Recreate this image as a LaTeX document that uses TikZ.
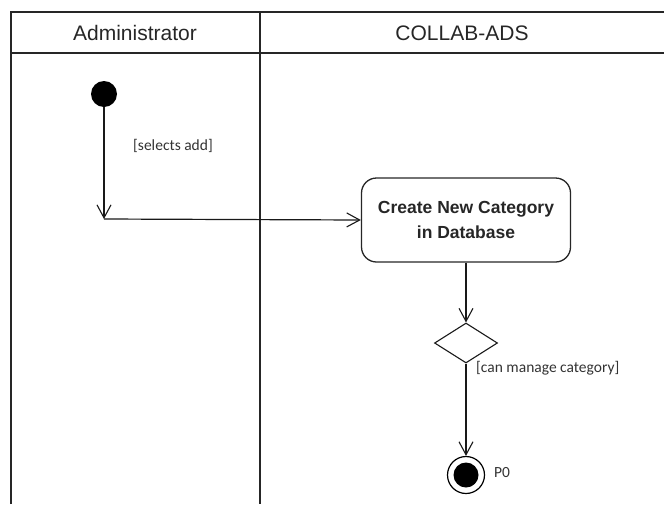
\documentclass[tikz,border=0pt]{standalone}
\usepackage{fontspec}
\setmainfont{Liberation Sans}
\newfontfamily\guardfont{Carlito}
\usetikzlibrary{arrows.meta,shapes.geometric}
\begin{document}
\begin{tikzpicture}[x=1pt,y=-1pt,
  frame/.style={line width=1.4pt,draw=black!85},
  conn/.style={line width=1.2pt,draw=black!90},
  flow/.style={conn,-{Straight Barb[length=13pt,width=14pt,line width=1.1pt]}},
  lanehead/.style={font=\fontsize{21}{24}\selectfont,text=black!85},
  activity/.style={draw=black!85,line width=1.3pt,rounded corners=15pt,minimum width=209pt,minimum height=84pt,align=center,font=\fontsize{17.5}{25}\selectfont\bfseries,text=black!85},
  decision/.style={diamond,draw=black!90,line width=1.1pt,minimum width=63pt,minimum height=40pt,inner sep=0pt,aspect=1.575},
  guard/.style={font=\guardfont\fontsize{15.5}{18}\selectfont,text=black!80,inner sep=0pt}]
\useasboundingbox (0,0) rectangle (664,504);
% swimlanes
\draw[frame] (11,504) -- (11,12) -- (664,12);
\draw[frame] (11,53) -- (664,53);
\draw[frame] (260,12) -- (260,504);
\node[lanehead] (laneA) at (135,33) {Administrator};
\node[lanehead] (laneB) at (462,33) {COLLAB-ADS};
% nodes
\node[circle,fill=black,minimum size=26pt,inner sep=0pt] (init) at (104,94) {};
\coordinate (bend) at (104,219);
\node[activity] (act) at (466,220) {Create New Category\\in Database};
\node[decision] (dec) at (466,343) {};
\node[circle,draw=black,line width=1.2pt,minimum size=37pt,inner sep=0pt] (final) at (466,475) {};
\node[circle,fill=black,minimum size=25pt,inner sep=0pt] (finalin) at (466,475) {};
% connectors
\draw[flow] (init) -- (bend);
\draw[flow] (bend) -- (act.west);
\draw[flow] (act.south) -- (dec.north);
\draw[flow] (dec.south) -- (final.north);
% labels
\node[guard,anchor=west] (g1) at (133,146) {[selects add]};
\node[guard,anchor=west] (g2) at (476,368) {[can manage category]};
\node[guard,anchor=west] (p0) at (494,473) {P0};
\end{tikzpicture}
\end{document}
